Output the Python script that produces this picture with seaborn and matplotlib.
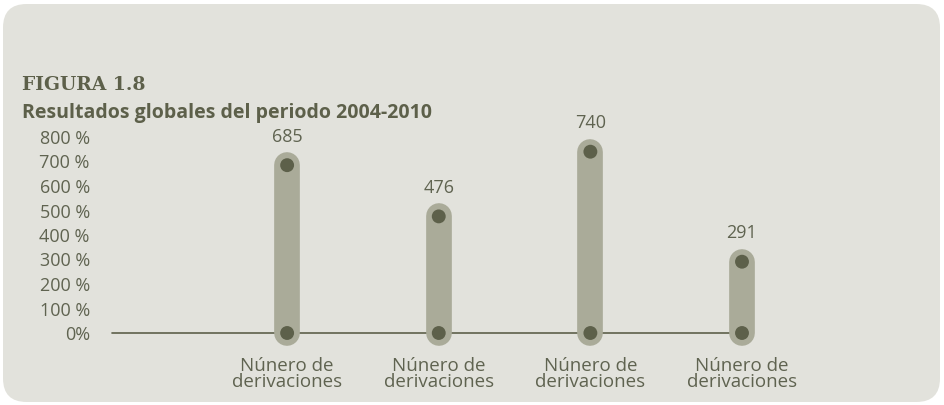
import numpy as np
import pandas as pd
import seaborn as sns
import matplotlib.pyplot as plt
from matplotlib.patches import FancyBboxPatch

# data
categories = ["Núnero de\nderivaciones"] * 4
values = [685, 476, 740, 291]
yticks = [0, 100, 200, 300, 400, 500, 600, 700, 800]
ytick_labels = ["0%", "100 %", "200 %", "300 %", "400 %", "500 %", "600 %", "700 %", "800 %"]

PANEL = "#e2e2dc"
BAR = "#aaab99"
DOT = "#5d604a"
TEXT = "#5f6350"

sns.set_style("white")
plt.rcParams['font.family'] = ['Open Sans', 'DejaVu Sans']

fig = plt.figure(figsize=(9.45, 4.05), dpi=100)
fig.patch.set_facecolor("white")

# rounded background panel
panel = FancyBboxPatch((3 / 945, 3 / 405), 937 / 945, 398 / 405,
                       boxstyle="round,pad=0,rounding_size=0.025",
                       transform=fig.transFigure, facecolor=PANEL,
                       edgecolor="none", mutation_aspect=945 / 405, zorder=-5)
fig.patches.append(panel)

fig.text(22 / 945, 1 - 85 / 405, "FIGURA 1.8", family=["DejaVu Serif"],
         fontweight="bold", fontsize=13.5, color=DOT, va="center")
fig.text(22 / 945, 1 - 113 / 405, "Resultados globales del periodo 2004-2010",
         fontweight="bold", fontsize=14, color=DOT, va="center")

ax = fig.add_axes([112 / 945, 72 / 405, 630 / 945, 196 / 405])
ax.set_facecolor("none")

df = pd.DataFrame({"pos": np.arange(len(values)), "value": values,
                   "zero": [0] * len(values)})

ax.axhline(0, color=DOT, lw=1.2, zorder=1, clip_on=False)

# capsules behind the dots
caps = ax.vlines(df["pos"], df["zero"], df["value"], colors=BAR,
                 linewidth=18.5, zorder=2, clip_on=False)
caps.set_capstyle("round")

sns.scatterplot(x="pos", y="value", data=df, ax=ax, color=DOT, s=100,
                edgecolor="none", zorder=3, clip_on=False)
sns.scatterplot(x="pos", y="zero", data=df, ax=ax, color=DOT, s=100,
                edgecolor="none", zorder=3, clip_on=False)

for x, v in zip(df["pos"], df["value"]):
    ax.annotate(str(v), (x, v), xytext=(0, 14), textcoords="offset points",
                ha="center", va="bottom", fontsize=13, color=TEXT)

ax.set_xlim(-1.155, 3)
ax.set_ylim(0, 800)
ax.set_yticks(yticks)
ax.set_yticklabels(ytick_labels)
ax.set_xticks(df["pos"])
ax.set_xticklabels(categories, linespacing=0.88)
ax.tick_params(axis="y", length=0, pad=16, labelsize=13, labelcolor=TEXT)
ax.tick_params(axis="x", length=0, pad=17, labelsize=13.5, labelcolor=TEXT)
ax.set_xlabel("")
ax.set_ylabel("")
sns.despine(ax=ax, left=True, bottom=True)

fig.savefig("out.png", dpi=100)
